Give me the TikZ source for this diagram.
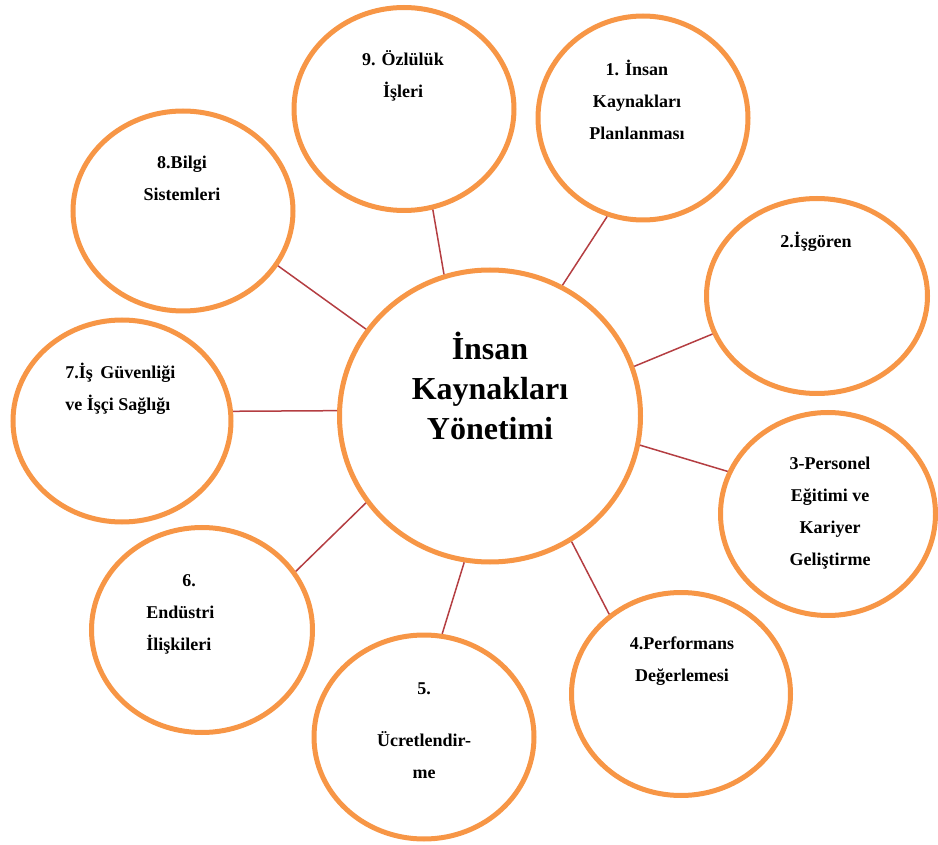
\documentclass[tikz,border=0pt]{standalone}
\usepackage{fontspec}
\setmainfont{Liberation Serif}
\usetikzlibrary{shapes.geometric}
\definecolor{ring}{RGB}{247,150,70}
\definecolor{spoke}{RGB}{180,62,66}
\tikzset{
  hrbub/.style={ellipse,draw=ring,line width=2.5pt,fill=white,inner sep=0pt,
    minimum width=110pt,minimum height=101pt},
  hrtxt/.style={font=\bfseries\fontsize{9}{16}\selectfont,align=center,inner sep=0pt},
  hrspoke/.style={spoke,line width=0.75pt},
}
\begin{document}
\begin{tikzpicture}[x=0.5pt,y=-0.5pt]
  \useasboundingbox (0,0) rectangle (938,845);
  % ---- hub ----
  \node[hrbub,minimum width=150.5pt,minimum height=146pt] (hub) at (490,416) {};
  \node[hrtxt,font=\bfseries\fontsize{16}{20}\selectfont] (thub) at (490,386)
     {İnsan\\Kaynakları\\Yönetimi};
  % ---- outer bubbles ----
  \node[hrbub,minimum width=105pt,minimum height=102pt] (n1) at (643,118) {};
  \node[hrbub,minimum width=110.5pt,minimum height=97.5pt] (n2) at (817,296) {};
  \node[hrbub,minimum width=107.5pt,minimum height=101.5pt] (n3) at (828,514) {};
  \node[hrbub,minimum width=109.5pt,minimum height=101.5pt] (n4) at (681,694) {};
  \node[hrbub,minimum width=110pt,minimum height=102pt] (n5) at (424,737) {};
  \node[hrbub,minimum width=110.5pt,minimum height=102.5pt] (n6) at (202,630) {};
  \node[hrbub,minimum width=109pt,minimum height=101pt] (n7) at (122,421) {};
  \node[hrbub,minimum width=110pt,minimum height=100pt] (n8) at (183,211) {};
  \node[hrbub,minimum width=110pt,minimum height=101.5pt] (n9) at (404,109) {};
  % ---- labels ----
  \node[hrtxt] (t1) at (637,100) {1. İnsan\\Kaynakları\\Planlanması};
  \node[hrtxt] (t2) at (816,242) {2.İşgören};
  \node[hrtxt] (t3) at (830,513) {3-Personel\\Eğitimi ve\\Kariyer\\Geliştirme};
  \node[hrtxt] (t4) at (682,661) {4.Performans\\Değerlemesi};
  \node[hrtxt] (t5) at (424,731) {5.\\[10pt]Ücretlendir-\\me};
  \node[hrtxt,align=left,anchor=west] (t6) at (146,614)
     {\hspace*{18pt}6.\\Endüstri\\İlişkileri};
  \node[hrtxt,align=left,anchor=west] (t7) at (65,389)
     {7.İş\hspace{1.5pt} Güvenliği\\ve İşçi Sağlığı};
  \node[hrtxt] (t8) at (182,178) {8.Bilgi\\Sistemleri};
  \node[hrtxt] (t9) at (403,76) {9. Özlülük\\İşleri};
  % ---- spokes ----
  \foreach \n/\a/\b in {1/61/250,2/19/200,3/349/157,4/303/132,5/260/80,
                        6/215/32,7/178/5,8/145/330,9/108/286} {
    \draw[hrspoke] (hub.\a) -- (n\n.\b);}
\end{tikzpicture}
\end{document}
